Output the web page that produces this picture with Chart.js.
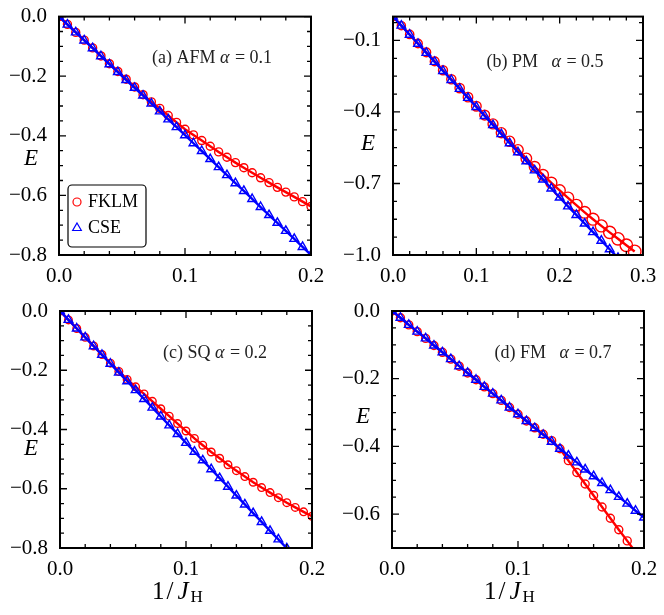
<!DOCTYPE html>
<html>
<head>
<meta charset="utf-8">
<script src="https://cdn.jsdelivr.net/npm/chart.js@4.4.0/dist/chart.umd.min.js"></script>
<style>
  html, body { margin: 0; padding: 0; background: #fff; }
  #wrap { position: relative; width: 664px; height: 615px; }
  canvas { position: absolute; }
</style>
</head>
<body>
<div id="wrap">
  <canvas id="pa" width="332" height="290" style="left:0;top:0"></canvas>
  <canvas id="pb" width="332" height="290" style="left:332px;top:0"></canvas>
  <canvas id="pc" width="332" height="325" style="left:0;top:290px"></canvas>
  <canvas id="pd" width="332" height="325" style="left:332px;top:290px"></canvas>
</div>
<script>
/////////////////// DATA ///////////////////

// 1/J_H grid used in panels (a), (c), (d)
const xFine = [0, 0.0067, 0.0133, 0.02, 0.0267, 0.0333, 0.04, 0.0467, 0.0533, 0.06,
  0.0667, 0.0733, 0.08, 0.0867, 0.0933, 0.1, 0.1067, 0.1133, 0.12, 0.1267,
  0.1333, 0.14, 0.1467, 0.1533, 0.16, 0.1667, 0.1733, 0.18, 0.1867, 0.1933, 0.2];
// 1/J_H grid used in panel (b)
const xCoarse = [0, 0.01, 0.02, 0.03, 0.04, 0.05, 0.06, 0.07, 0.08, 0.09,
  0.1, 0.11, 0.12, 0.13, 0.14, 0.15, 0.16, 0.17, 0.18, 0.19,
  0.2, 0.21, 0.22, 0.23, 0.24, 0.25, 0.26, 0.27, 0.28, 0.29];

// (a) AFM alpha = 0.1
const fklmA = [0, -0.026, -0.053, -0.079, -0.105, -0.132, -0.158, -0.184, -0.210, -0.236,
  -0.262, -0.286, -0.308, -0.332, -0.355, -0.378, -0.397, -0.416, -0.435, -0.454,
  -0.472, -0.490, -0.507, -0.524, -0.541, -0.557, -0.573, -0.589, -0.605, -0.621, -0.637];
const cseA = [0, -0.027, -0.053, -0.080, -0.106, -0.133, -0.160, -0.186, -0.213, -0.239,
  -0.265, -0.292, -0.318, -0.345, -0.371, -0.398, -0.425, -0.451, -0.478, -0.505,
  -0.532, -0.559, -0.585, -0.612, -0.639, -0.666, -0.692, -0.719, -0.746, -0.773, -0.800];

// (b) PM alpha = 0.5
const fklmB = [0, -0.038, -0.075, -0.113, -0.150, -0.188, -0.225, -0.263, -0.300, -0.338,
  -0.376, -0.413, -0.450, -0.487, -0.523, -0.559, -0.595, -0.630, -0.664, -0.697,
  -0.729, -0.760, -0.791, -0.821, -0.850, -0.878, -0.905, -0.932, -0.959, -0.985];
const cseB = [0, -0.038, -0.076, -0.114, -0.152, -0.190, -0.228, -0.266, -0.303, -0.341,
  -0.379, -0.417, -0.455, -0.493, -0.531, -0.569, -0.607, -0.645, -0.683, -0.721,
  -0.759, -0.796, -0.832, -0.868, -0.904, -0.940, -0.976, -1.012];

// (c) SQ alpha = 0.2
const fklmC = [0, -0.030, -0.059, -0.089, -0.118, -0.147, -0.176, -0.204, -0.231, -0.256,
  -0.280, -0.305, -0.330, -0.355, -0.380, -0.405, -0.430, -0.453, -0.476, -0.497,
  -0.519, -0.539, -0.559, -0.578, -0.596, -0.613, -0.630, -0.647, -0.663, -0.678, -0.693];
const cseC = [0, -0.030, -0.059, -0.089, -0.119, -0.148, -0.178, -0.208, -0.237, -0.267,
  -0.297, -0.326, -0.356, -0.386, -0.415, -0.445, -0.475, -0.504, -0.534, -0.564,
  -0.593, -0.623, -0.653, -0.682, -0.712, -0.742, -0.771, -0.801];

// (d) FM alpha = 0.7
const fklmD = [0, -0.020, -0.041, -0.061, -0.081, -0.102, -0.122, -0.142, -0.163, -0.183,
  -0.203, -0.224, -0.244, -0.264, -0.285, -0.305, -0.325, -0.345, -0.364, -0.383,
  -0.407, -0.442, -0.477, -0.511, -0.545, -0.579, -0.612, -0.646, -0.679, -0.712, -0.745];
const cseD = [0, -0.020, -0.041, -0.061, -0.081, -0.102, -0.122, -0.142, -0.163, -0.183,
  -0.203, -0.224, -0.244, -0.264, -0.285, -0.305, -0.325, -0.346, -0.366, -0.386,
  -0.407, -0.427, -0.447, -0.468, -0.488, -0.508, -0.529, -0.549, -0.569, -0.590, -0.610];

// tick labels
const xTicks02 = [0, 0.1, 0.2];
const xTicks03 = [0, 0.1, 0.2, 0.3];
const yTicksA = [0, -0.2, -0.4, -0.6, -0.8];
const yTicksB = [-0.1, -0.4, -0.7, -1.0];
const yTicksD = [0, -0.2, -0.4, -0.6];

/////////////////// HELPERS ///////////////////

const SERIF = "'Liberation Serif', 'Times New Roman', serif";
const RED = '#ff0000';
const BLUE = '#0000ff';

// draw a row of text pieces with their own fonts (for italics / subscripts)
// piece = [text, font, dy, gapAfter]
function drawRuns(ctx, runs, x, y, center) {
  let w = 0;
  runs.forEach(r => { ctx.font = r[1]; w += ctx.measureText(r[0]).width + (r[3] || 0); });
  let cx = center ? x - w / 2 : x;
  ctx.textAlign = 'left';
  ctx.textBaseline = 'middle';
  runs.forEach(r => {
    ctx.font = r[1];
    ctx.fillText(r[0], cx, y + (r[2] || 0));
    cx += ctx.measureText(r[0]).width + (r[3] || 0);
  });
}

// frame, inward ticks on all four sides, labels and legend
const frameTicks = {
  id: 'frameTicks',
  afterDatasetsDraw(chart, args, o) {
    const { ctx, chartArea: a, scales } = chart;
    const xs = scales.x, ys = scales.y;
    ctx.save();
    ctx.strokeStyle = '#000';
    ctx.lineWidth = 1.3;
    ctx.beginPath();
    const xMark = (v, len) => {
      const p = xs.getPixelForValue(v);
      ctx.moveTo(p, a.bottom); ctx.lineTo(p, a.bottom - len);
      ctx.moveTo(p, a.top); ctx.lineTo(p, a.top + len);
    };
    const yMark = (v, len) => {
      const p = ys.getPixelForValue(v);
      ctx.moveTo(a.left, p); ctx.lineTo(a.left + len, p);
      ctx.moveTo(a.right, p); ctx.lineTo(a.right - len, p);
    };
    const minor = (scale, step, mark) => {
      const base = scale.ticks[0].value;
      for (let k = -80; k <= 80; k++) {
        const v = base + k * step;
        if (v >= scale.min - 1e-9 && v <= scale.max + 1e-9) mark(v, 4);
      }
    };
    minor(xs, o.xMinor, xMark);
    minor(ys, o.yMinor, yMark);
    xs.ticks.forEach(t => xMark(t.value, 7));
    ys.ticks.forEach(t => yMark(t.value, 7));
    ctx.stroke();

    ctx.lineWidth = 2;
    ctx.strokeRect(a.left, a.top, a.right - a.left, a.bottom - a.top);

    // panel note
    ctx.fillStyle = '#222';
    drawRuns(ctx, [[o.tag, '18px ' + SERIF], ['\u03b1', 'italic 18px ' + SERIF, 0, 1], [' = ' + o.alpha, '18px ' + SERIF]],
      o.noteX, o.noteY, true);

    // E label
    ctx.fillStyle = '#000';
    drawRuns(ctx, [['E', 'italic 23px ' + SERIF]], o.eX, o.eY, true);

    // 1/J_H title
    if (o.title) {
      drawRuns(ctx, [['1', '25px ' + SERIF, 0, 2], ['/', '25px ' + SERIF, 0, 4],
        ['J', 'italic 25px ' + SERIF, 0, 2], ['H', '17px ' + SERIF, 6]],
        o.titleX, o.titleY, false);
    }

    // legend
    if (o.legend) {
      const lx = 68, ly = 185, lw = 78, lh = 62, r = 4;
      ctx.lineWidth = 1.2;
      ctx.strokeStyle = '#000';
      ctx.beginPath();
      ctx.roundRect(lx, ly, lw, lh, r);
      ctx.stroke();
      const items = [
        { text: 'FKLM', color: RED, style: 'circle', rad: 4, y: ly + 17 },
        { text: 'CSE', color: BLUE, style: 'triangle', rad: 5, y: ly + 43 }
      ];
      items.forEach(it => {
        ctx.strokeStyle = it.color;
        ctx.fillStyle = 'rgba(0,0,0,0)';
        Chart.helpers.drawPoint(ctx, { pointStyle: it.style, radius: it.rad, borderWidth: 1.4, rotation: 0 }, lx + 9, it.y);
        ctx.fillStyle = '#000';
        drawRuns(ctx, [[it.text, '18px ' + SERIF]], lx + 20, it.y, false);
      });
    }
    ctx.restore();
  }
};

function series(xv, yv, color, style, radius) {
  return {
    data: yv.map((v, i) => ({ x: xv[i], y: v })),
    showLine: true,
    borderColor: color,
    backgroundColor: 'rgba(0,0,0,0)',
    borderWidth: 2.4,
    pointStyle: style,
    pointRadius: radius,
    pointBorderColor: color,
    pointBackgroundColor: 'rgba(0,0,0,0)',
    pointBorderWidth: 1.4,
    clip: 0
  };
}

function axes(xMin, xMax, xTicks, yMin, yMax, yTicks, yWidth, xHeight) {
  const fmt = v => (v < 0 ? '\u2212' : '') + Math.abs(v).toFixed(1);
  const tickFont = { family: SERIF, size: 21 };
  return {
    x: {
      type: 'linear', min: xMin, max: xMax,
      afterBuildTicks: s => { s.ticks = xTicks.map(v => ({ value: v })); },
      afterFit: s => { s.height = xHeight; },
      grid: { display: false }, border: { display: false },
      ticks: { callback: fmt, font: tickFont, color: '#000', padding: 1, maxRotation: 0, autoSkip: false }
    },
    y: {
      type: 'linear', min: yMin, max: yMax,
      afterBuildTicks: s => { s.ticks = yTicks.map(v => ({ value: v })); },
      afterFit: s => { s.width = yWidth; },
      grid: { display: false }, border: { display: false },
      ticks: { callback: fmt, font: tickFont, color: '#000', padding: 4, autoSkip: false }
    }
  };
}

function makePanel(id, datasets, scales, padding, deco) {
  return new Chart(document.getElementById(id), {
    type: 'scatter',
    data: { datasets: datasets },
    options: {
      responsive: false,
      animation: false,
      layout: { padding: padding },
      scales: scales,
      plugins: { legend: { display: false }, tooltip: { enabled: false }, frameTicks: deco }
    },
    plugins: [frameTicks]
  });
}

/////////////////// PANELS ///////////////////

makePanel('pa',
  [series(xFine, cseA, BLUE, 'triangle', 5), series(xFine, fklmA, RED, 'circle', 4)],
  axes(0, 0.2, xTicks02, -0.8, 0, yTicksA, 59, 35),
  { left: 0, top: 15, right: 21, bottom: 0 },
  { xMinor: 0.02, yMinor: 0.05, tag: '(a) AFM ', alpha: '0.1', noteX: 212, noteY: 58, eX: 31, eY: 159, legend: true });

makePanel('pb',
  [series(xCoarse, cseB, BLUE, 'triangle', 5),
   Object.assign(series(xCoarse, fklmB, RED, 'circle', 4), { pointRadius: c => 4 + c.dataIndex * 0.08 })],
  axes(0, 0.3, xTicks03, -1.0, 0, yTicksB, 61, 35),
  { left: 0, top: 15, right: 21, bottom: 0 },
  { xMinor: 0.02, yMinor: 0.075, tag: '(b) PM\u2002 ', alpha: '0.5', noteX: 213, noteY: 62, eX: 36, eY: 144 });

makePanel('pc',
  [series(xFine, cseC, BLUE, 'triangle', 5), series(xFine, fklmC, RED, 'circle', 3.8)],
  axes(0, 0.2, xTicks02, -0.8, 0, yTicksA, 60, 67),
  { left: 0, top: 21, right: 20, bottom: 0 },
  { xMinor: 0.02, yMinor: 0.05, tag: '(c) SQ ', alpha: '0.2', noteX: 215, noteY: 63, eX: 31, eY: 159,
    title: true, titleX: 152, titleY: 302 });

makePanel('pd',
  [series(xFine, cseD, BLUE, 'triangle', 5), series(xFine, fklmD, RED, 'circle', 4)],
  axes(0, 0.2, xTicks02, -0.7, 0, yTicksD, 60, 67),
  { left: 0, top: 21, right: 20, bottom: 0 },
  { xMinor: 0.02, yMinor: 0.05, tag: '(d) FM\u2002 ', alpha: '0.7', noteX: 221, noteY: 63, eX: 31, eY: 127,
    title: true, titleX: 152, titleY: 302 });
</script>
</body>
</html>
